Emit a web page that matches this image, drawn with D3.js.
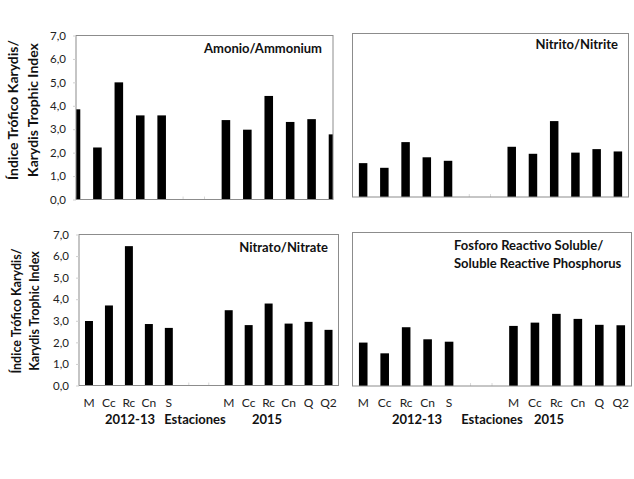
<!DOCTYPE html>
<html>
<head>
<meta charset="utf-8">
<script src="https://cdn.jsdelivr.net/npm/d3@7"></script>
<style>
  body { margin: 0; background: #fff; }
  svg { display: block; font-family: Lato, "Open Sans", sans-serif; }
</style>
</head>
<body>
<svg id="chart" width="634" height="479"></svg>
<script>
// stations along the x axis (two empty slots separate 2012-13 from 2015)
const stations = ['M', 'Cc', 'Rc', 'Cn', 'S', '', '', 'M', 'Cc', 'Rc', 'Cn', 'Q', 'Q2'];
const yTicks = [0, 1, 2, 3, 4, 5, 6, 7];

// Karydis trophic index per station
const amonio  = [3.85, 2.22, 5.00, 3.59, 3.59, null, null, 3.39, 2.98, 4.42, 3.31, 3.43, 2.78];
const nitrito = [1.45, 1.25, 2.35, 1.70, 1.55, null, null, 2.15, 1.85, 3.25, 1.90, 2.05, 1.95];
const nitrato = [2.99, 3.71, 6.46, 2.85, 2.67, null, null, 3.49, 2.80, 3.80, 2.87, 2.95, 2.58];
const fosforo = [1.98, 1.49, 2.68, 2.13, 2.02, null, null, 2.74, 2.89, 3.29, 3.06, 2.79, 2.77];

const svg = d3.select('#chart');
const fmt = d => d3.format('.1f')(d).replace('.', ',');

function drawPanel(p) {
  const g = svg.append('g');
  const keys = stations.map((s, i) => i);

  // the ammonium panel was pasted with bars centred on the frame edges
  let x, step;
  if (p.point) {
    x = d3.scalePoint().domain(keys).range([p.x0, p.x1]).padding(0);
    step = x.step();
  } else {
    const band = d3.scaleBand().domain(keys).range([p.x0, p.x1]).padding(0);
    x = i => band(i) + band.bandwidth() / 2;
    step = band.bandwidth();
  }
  const y = d3.scaleLinear().domain([0, 7]).range([p.y1, p.y0]);
  const bw = step * 0.4;

  const clipId = 'clip' + p.id;
  g.append('clipPath').attr('id', clipId)
    .append('rect')
    .attr('x', p.x0).attr('y', p.y0)
    .attr('width', p.x1 - p.x0).attr('height', p.y1 - p.y0);

  // faint tick marks along the bottom
  g.selectAll('.xt').data(keys).join('line')
    .attr('x1', d => x(d)).attr('x2', d => x(d))
    .attr('y1', p.y1).attr('y2', p.y1 - 3)
    .attr('stroke', '#d8d8d8');

  g.append('g').attr('clip-path', `url(#${clipId})`)
    .selectAll('rect').data(keys.filter(i => p.values[i] != null)).join('rect')
    .attr('x', d => x(d) - bw / 2)
    .attr('y', d => y(p.values[d]))
    .attr('width', bw)
    .attr('height', d => y(0) - y(p.values[d]))
    .attr('fill', '#000');

  g.append('rect')
    .attr('x', p.x0).attr('y', p.y0)
    .attr('width', p.x1 - p.x0).attr('height', p.y1 - p.y0)
    .attr('fill', 'none').attr('stroke', '#8c8c8c').attr('stroke-width', 1);

  if (p.yLabels) {
    const ax = g.append('g').attr('transform', `translate(${p.x0},0)`)
      .call(d3.axisLeft(y).tickValues(yTicks).tickFormat(fmt).tickSize(3).tickPadding(7));
    ax.select('.domain').remove();
    ax.selectAll('line').attr('stroke', '#d0d0d0');
    ax.selectAll('text').attr('font-size', 11.5).attr('fill', '#222')
      .attr('font-family', 'Lato, sans-serif');

    const yl = g.append('text')
      .attr('transform', `translate(${p.yLabX},${p.yLabY}) rotate(-90)`)
      .attr('text-anchor', 'middle')
      .attr('font-weight', 'bold')
      .attr('font-size', p.yLabSize)
      .attr('fill', '#111');
    yl.append('tspan').attr('x', 0).attr('dy', 0).text('Índice Trófico Karydis/');
    yl.append('tspan').attr('x', 0).attr('dy', p.yLabGap).text(p.yLabText2);
  }

  if (p.xLabels) {
    g.selectAll('.xl').data(keys).join('text')
      .attr('x', d => x(d)).attr('y', p.y1 + 21)
      .attr('text-anchor', 'middle')
      .attr('font-size', 12).attr('fill', '#222')
      .text(d => stations[d]);
    const groups = [['2012-13', p.g1], ['Estaciones', p.g2], ['2015', p.g3]];
    g.selectAll('.gl').data(groups).join('text')
      .attr('x', d => d[1]).attr('y', p.y1 + 38)
      .attr('text-anchor', 'middle')
      .attr('font-size', 13).attr('font-weight', 'bold').attr('fill', '#111')
      .text(d => d[0]);
  }

  p.title.forEach((t, i) => {
    g.append('text')
      .attr('x', p.titleX).attr('y', p.titleY + i * 18)
      .attr('text-anchor', p.titleAnchor)
      .attr('font-size', 13).attr('font-weight', 'bold').attr('fill', '#111')
      .text(t);
  });
}

drawPanel({
  id: 'a', values: amonio, point: true,
  x0: 76, x1: 333, y0: 35.5, y1: 199.5,
  yLabels: true, yLabX: 18, yLabY: 110, yLabSize: 14, yLabGap: 20, yLabText2: 'Karydis Trophic Index',
  title: ['Amonio/Ammonium'], titleX: 322, titleY: 53, titleAnchor: 'end'
});
drawPanel({
  id: 'b', values: nitrito,
  x0: 352.5, x1: 628.5, y0: 33.5, y1: 197,
  title: ['Nitrito/Nitrite'], titleX: 618, titleY: 49, titleAnchor: 'end'
});
drawPanel({
  id: 'c', values: nitrato,
  x0: 79, x1: 338.5, y0: 234.5, y1: 385.5,
  yLabels: true, yLabX: 21, yLabY: 311, yLabSize: 12.5, yLabGap: 18, yLabText2: 'Karydis Trophic  Index',
  xLabels: true, g1: 130, g2: 195, g3: 267,
  title: ['Nitrato/Nitrate'], titleX: 328, titleY: 251.5, titleAnchor: 'end'
});
drawPanel({
  id: 'd', values: fosforo,
  x0: 352.5, x1: 631.5, y0: 232.5, y1: 386,
  xLabels: true, g1: 417, g2: 492, g3: 549,
  title: ['Fosforo Reactivo Soluble/', 'Soluble Reactive Phosphorus'], titleX: 454, titleY: 249.5, titleAnchor: 'start'
});
</script>
</body>
</html>
